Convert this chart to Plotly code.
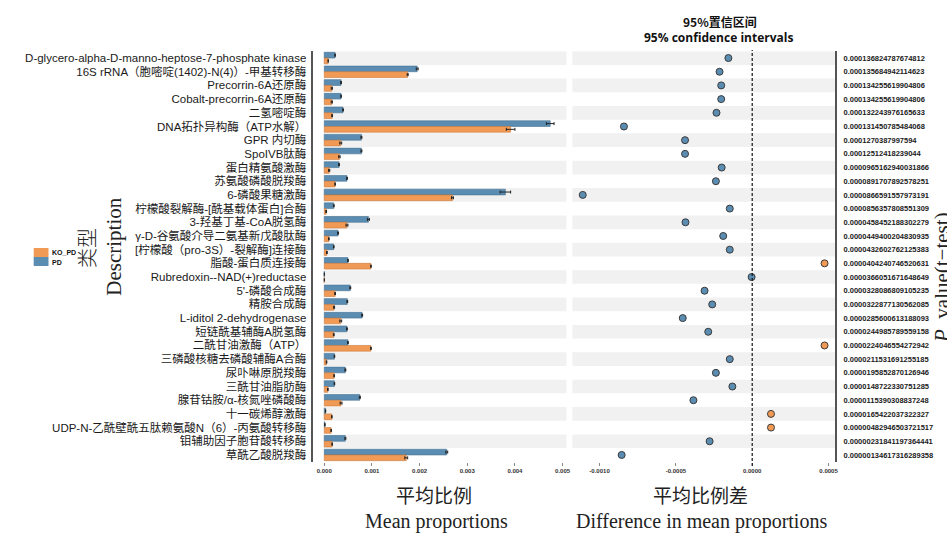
import plotly.graph_objects as go

# ---- data -------------------------------------------------------------
descriptions = [
    "D-glycero-alpha-D-manno-heptose-7-phosphate kinase",
    "16S rRNA（胞嘧啶(1402)-N(4)）-甲基转移酶",
    "Precorrin-6A还原酶",
    "Cobalt-precorrin-6A还原酶",
    "二氢嘧啶酶",
    "DNA拓扑异构酶（ATP水解）",
    "GPR 内切酶",
    "SpoIVB肽酶",
    "蛋白精氨酸激酶",
    "苏氨酸磷酸脱羧酶",
    "6-磷酸果糖激酶",
    "柠檬酸裂解酶-[酰基载体蛋白]合酶",
    "3-羟基丁基-CoA脱氢酶",
    "γ-D-谷氨酸介导二氨基新戊酸肽酶",
    "[柠檬酸（pro-3S）-裂解酶]连接酶",
    "脂酸-蛋白质连接酶",
    "Rubredoxin--NAD(+)reductase",
    "5'-磷酸合成酶",
    "精胺合成酶",
    "L-iditol 2-dehydrogenase",
    "短链酰基辅酶A脱氢酶",
    "二酰甘油激酶（ATP）",
    "三磷酸核糖去磷酸辅酶A合酶",
    "尿卟啉原脱羧酶",
    "三酰甘油脂肪酶",
    "腺苷钴胺/α-核氮唑磷酸酶",
    "十一碳烯醇激酶",
    "UDP-N-乙酰壁酰五肽赖氨酸N（6）-丙氨酸转移酶",
    "钼辅助因子胞苷酸转移酶",
    "草酰乙酸脱羧酶",
]

pd_mean = [0.000228, 0.00195, 0.000353, 0.000353, 0.000394, 0.00474, 0.00078,
           0.00078, 0.000311, 0.000477, 0.0038, 0.0002, 0.000927, 0.00029,
           0.0002, 0.000498, 0.000001, 0.000546, 0.000484, 0.000795, 0.000477,
           0.000498, 0.000214, 0.000443, 0.000214, 0.000747, 0.0000277,
           0.0000138, 0.000443, 0.00257]
pd_err = [0.000006, 0.00002, 0.000008, 0.000006, 0.000008, 0.00008, 0.00001,
          0.00001, 0.000008, 0.000008, 0.00011, 0.000008, 0.00002, 0.00001,
          0.000006, 0.000006, 0.0, 0.00001, 0.000008, 0.00001, 0.000008,
          0.000006, 0.000006, 0.00001, 0.000006, 0.00001, 0.000004, 0.000004,
          0.00001, 0.00002]

ko_mean = [0.000083, 0.00175, 0.000159, 0.000159, 0.000166, 0.00391, 0.000346,
           0.000318, 0.000104, 0.000228, 0.00269, 0.000041, 0.000477, 0.000097,
           0.000055, 0.00098, 0.0000005, 0.000228, 0.000207, 0.000346, 0.0002,
           0.00098, 0.000048, 0.000207, 0.000076, 0.000353, 0.000159, 0.000145,
           0.000166, 0.00172]
ko_err = [0.000004, 0.00001, 0.000012, 0.000012, 0.000008, 0.00009, 0.00002,
          0.000015, 0.000012, 0.000006, 0.00002, 0.000008, 0.00002, 0.000006,
          0.000008, 0.000006, 0.0, 0.000008, 0.00001, 0.00002, 0.000008,
          0.000006, 0.000006, 0.000006, 0.000006, 0.00002, 0.000006, 0.000006,
          0.000006, 0.00003]

mean_diff = [-0.000156, -0.000214, -0.000203, -0.000203, -0.000234, -0.00084,
             -0.00044, -0.00044, -0.0002, -0.000238, -0.00111, -0.000147,
             -0.000437, -0.00019, -0.000147, 0.000474, -0.000004, -0.000312,
             -0.000262, -0.000455, -0.000288, 0.000474, -0.000147, -0.000238,
             -0.00013, -0.000385, 0.000123, 0.000123, -0.000279, -0.000855]

p_values = [
    "0.000136824787674812", "0.000135684942114623", "0.000134255619904806",
    "0.000134255619904806", "0.000132243976165633", "0.000131450785484068",
    "0.0001270387997594", "0.00012512418239044", "0.0000965162940031866",
    "0.0000891707892578251", "0.0000866591557973191", "0.0000856357808551309",
    "0.0000458452188302279", "0.0000449400204830935", "0.0000432602762125383",
    "0.0000404240746520631", "0.0000366051671648649", "0.0000328086809105235",
    "0.0000322877130562085", "0.0000285600613188093", "0.0000244985789559158",
    "0.0000224046554272942", "0.0000211531691255185", "0.0000195852870126946",
    "0.0000148722330751285", "0.0000115390308837248", "0.0000165422037322327",
    "0.00000482946503721517", "0.00000231841197364441", "0.00000134617316289358",
]

mean_ticks = [0.0, 0.001, 0.002, 0.003, 0.004, 0.005]
mean_tick_text = ["0.000", "0.001", "0.002", "0.003", "0.004", "0.005"]
diff_ticks = [-0.001, -0.0005, 0.0, 0.0005]
diff_tick_text = ["-0.0010", "-0.0005", "0.0000", "0.0005"]

groups = ["KO_PD", "PD"]

# ---- styling ----------------------------------------------------------
W, H = 947, 534
BLUE = "#5b8db3"
ORANGE = "#f19a55"
STRIPE = "#f1f1f1"
SANS = "Liberation Sans, Noto Sans CJK SC, sans-serif"
CJK = "Noto Sans CJK SC, sans-serif"
SERIF = "Liberation Serif, DejaVu Serif, serif"


def px_x(p):
    return p / W


def px_y(p):
    return 1 - p / H


rows = list(range(len(descriptions)))
row_top, row_bottom = 51.2, 461.8

fig = go.Figure()

fig.add_trace(go.Bar(
    x=pd_mean, y=rows, orientation="h", name=groups[1],
    marker=dict(color=BLUE, line=dict(color="#46718f", width=0.6)),
    error_x=dict(type="data", array=pd_err, color="#222", thickness=1, width=1.5),
    xaxis="x", yaxis="y", showlegend=False,
))
fig.add_trace(go.Bar(
    x=ko_mean, y=rows, orientation="h", name=groups[0],
    marker=dict(color=ORANGE, line=dict(color="#c97a3c", width=0.6)),
    error_x=dict(type="data", array=ko_err, color="#222", thickness=1, width=1.5),
    xaxis="x", yaxis="y", showlegend=False,
))

fig.add_trace(go.Scatter(
    x=mean_diff, y=rows, mode="markers",
    marker=dict(size=7, color=[ORANGE if d > 0 else BLUE for d in mean_diff],
                line=dict(color="#3a3a3a", width=1)),
    xaxis="x2", yaxis="y2", showlegend=False,
))

shapes = []
for r in rows:
    if r % 2 == 0:
        for xr, yr in (("x domain", "y"), ("x2 domain", "y2")):
            shapes.append(dict(type="rect", xref=xr, yref=yr, x0=0, x1=1,
                               y0=r - 0.5, y1=r + 0.5, fillcolor=STRIPE,
                               line=dict(width=0), layer="below"))
# zero reference line in the difference panel
shapes.append(dict(type="line", xref="x2", yref="paper", x0=0, x1=0,
                   y0=px_y(466), y1=px_y(50),
                   line=dict(color="#111", width=1.2, dash="3px,2px")))
# legend swatches
shapes.append(dict(type="rect", xref="paper", yref="paper",
                   x0=px_x(27), x1=px_x(42), y0=px_y(257), y1=px_y(248),
                   fillcolor=ORANGE, line=dict(width=0)))
shapes.append(dict(type="rect", xref="paper", yref="paper",
                   x0=px_x(27), x1=px_x(42), y0=px_y(266), y1=px_y(257),
                   fillcolor=BLUE, line=dict(width=0)))

annotations = [
    dict(text="<b>95%置信区间</b>", x=px_x(721), y=px_y(22), font=dict(family=CJK, size=12, color="#111")),
    dict(text="<b>95% confidence intervals</b>", x=px_x(720), y=px_y(38),
         font=dict(family="Open Sans, sans-serif", size=12, color="#111")),
    dict(text="平均比例", x=px_x(432), y=px_y(494), font=dict(family=CJK, size=19, color="#222")),
    dict(text="Mean proportions", x=px_x(435), y=px_y(521), font=dict(family=SERIF, size=20, color="#222")),
    dict(text="平均比例差", x=px_x(702), y=px_y(494), font=dict(family=CJK, size=19, color="#222")),
    dict(text="Difference in mean proportions", x=px_x(703), y=px_y(521),
         font=dict(family=SERIF, size=20, color="#222")),
    dict(text="类型", x=px_x(80), y=px_y(248), textangle=-90,
         font=dict(family=CJK, size=20, color="#222", weight=300)),
    dict(text="Description", x=px_x(108), y=px_y(247), textangle=-90,
         font=dict(family=SERIF, size=21, color="#222")),
    dict(text="<i>P</i>_value(t−test)", x=px_x(946), y=px_y(278), textangle=-90,
         font=dict(family=SERIF, size=21, color="#222")),
    dict(text="<b>KO_PD</b>", x=px_x(43), y=px_y(252), xanchor="left",
         font=dict(family=SANS, size=7, color="#111")),
    dict(text="<b>PD</b>", x=px_x(43), y=px_y(262), xanchor="left",
         font=dict(family=SANS, size=7, color="#111")),
]
for a in annotations:
    a.update(xref="paper", yref="paper", showarrow=False)
    a.setdefault("xanchor", "center")
    a.setdefault("yanchor", "middle")

tick_font = dict(family=SANS, size=6, color="#333", weight="bold")

fig.update_layout(
    width=W, height=H, margin=dict(l=0, r=0, t=0, b=0),
    paper_bgcolor="white", plot_bgcolor="white",
    barmode="group", bargap=0.16, bargroupgap=0,
    shapes=shapes, annotations=annotations,
    xaxis=dict(domain=[px_x(320), px_x(566)], range=[-0.00002, 0.00508],
               tickvals=mean_ticks, ticktext=mean_tick_text, tickfont=tick_font,
               ticks="outside", ticklen=3, tickcolor="#888", showgrid=False,
               zeroline=False, showline=False, anchor="y"),
    yaxis=dict(domain=[px_y(row_bottom), px_y(row_top)], range=[29.5, -0.5],
               tickvals=rows, ticktext=descriptions, anchor="free",
               position=px_x(309), showline=True, linecolor="#555", linewidth=1.5,
               ticks="", ticklabelstandoff=3,
               tickfont=dict(family=SANS, size=11.5, color="#1a1a1a"),
               showgrid=False, zeroline=False),
    xaxis2=dict(domain=[px_x(572), px_x(838)], range=[-0.001178, 0.000544],
                tickvals=diff_ticks, ticktext=diff_tick_text, tickfont=tick_font,
                ticks="outside", ticklen=3, tickcolor="#888", showgrid=False,
                zeroline=False, showline=False, anchor="y2"),
    yaxis2=dict(domain=[px_y(row_bottom), px_y(row_top)], range=[29.5, -0.5],
                tickvals=rows, ticktext=p_values, anchor="x2", side="right",
                showline=True, linecolor="#555", linewidth=1.5, ticks="",
                ticklabelstandoff=5,
                tickfont=dict(family=SANS, size=7.5, color="#1a1a1a", weight="bold"),
                showgrid=False, zeroline=False),
)

fig.write_html("out.html")
